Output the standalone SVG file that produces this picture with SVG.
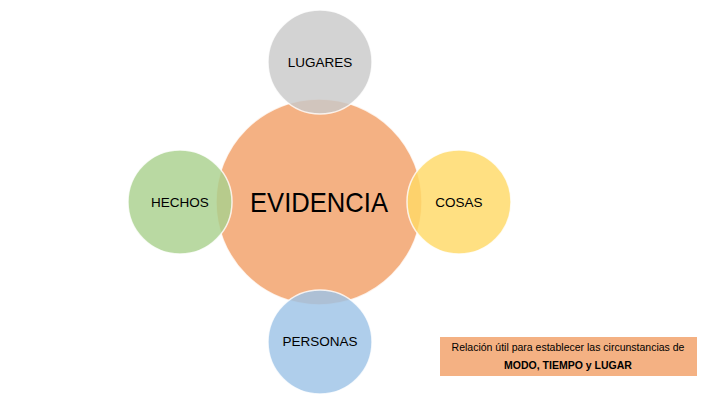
<svg xmlns="http://www.w3.org/2000/svg" width="720" height="405" viewBox="0 0 720 405">
<style>
.c{stroke:#ffffff;stroke-width:1.5;stroke-opacity:0.8}
.s{fill-opacity:0.82}
.t{font-family:"Liberation Sans",Arial,sans-serif;fill:#000;text-anchor:middle;dominant-baseline:central}
.st{font-size:13.5px}
</style>
<rect width="720" height="405" fill="#ffffff"/>
<g id="evidencia">
<circle class="c" cx="319" cy="202" r="103" fill="#F4B183"/>
<text class="t" x="319" y="202" font-size="28" textLength="138" lengthAdjust="spacingAndGlyphs">EVIDENCIA</text>
</g>
<g id="lugares">
<circle class="c s" cx="320" cy="62" r="52" fill="#C9C9C9"/>
<text class="t st" x="320" y="62">LUGARES</text>
</g>
<g id="hechos">
<circle class="c s" cx="180" cy="202" r="52" fill="#A9D18E"/>
<text class="t st" x="180" y="202">HECHOS</text>
</g>
<g id="cosas">
<circle class="c s" cx="459" cy="202" r="52" fill="#FFD966"/>
<text class="t st" x="459" y="202">COSAS</text>
</g>
<g id="personas">
<circle class="c s" cx="320" cy="342" r="52" fill="#9DC3E6"/>
<text class="t st" x="320" y="341">PERSONAS</text>
</g>
<g id="nota">
<rect x="440" y="337" width="257" height="39" fill="#F4B183"/>
<text class="t" x="568" y="347" font-size="10.5">Relación útil para establecer las circunstancias de</text>
<text class="t" x="568" y="365" font-size="10.5" font-weight="bold">MODO, TIEMPO y LUGAR</text>
</g>
<g id="connectors"/>
</svg>
